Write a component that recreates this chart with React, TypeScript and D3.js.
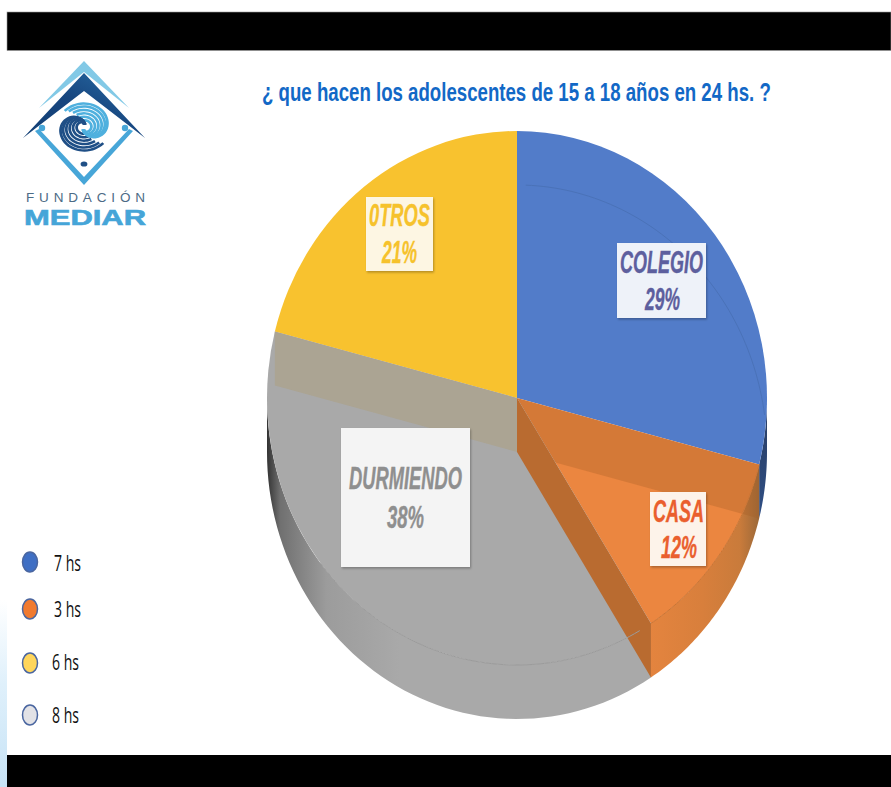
import React from "react";
import * as d3 from "d3";

// Share of the day for each activity
const categories = ["COLEGIO", "CASA", "DURMIENDO", "0TROS"];
const percentages = [29, 12, 38, 21];
const legendLabels = ["7 hs", "3 hs", "6 hs", "8 hs"];
const legendFills = ["#3f6fc4", "#f07a30", "#ffd65c", "#e2e2e6"];
const sliceFills = ["#527cc9", "#eb8640", "#a9a9a9", "#f8c22f"];
const labelInks = ["#5d5f9e", "#ea5f2e", "#8f8f8f", "#f6c22c"];
const labelPapers = ["#eef2f9", "#fdf3ea", "#f4f4f4", "#fdf6e3"];
const titleText = "¿ que hacen los adolescentes de 15 a 18 años en 24 hs. ?";

const SANS = "'Liberation Sans', Arial, sans-serif";
const cx = 517;
const cy = 398;
const rx = 250;
const ry = 267;
const depth = 54;

type LabelBox = { x: number; y: number; w: number; h: number; nameX: number; nameW: number; nameY: number; pctX: number; pctW: number; pctY: number };
const labelBoxes: LabelBox[] = [
  { x: 617, y: 243, w: 89, h: 75, nameX: 620, nameW: 83, nameY: 273, pctX: 645, pctW: 35, pctY: 310 },
  { x: 650, y: 492, w: 56, h: 74, nameX: 653, nameW: 51, nameY: 522, pctX: 661, pctW: 36, pctY: 558 },
  { x: 341, y: 428, w: 129, h: 139, nameX: 349, nameW: 113, nameY: 489, pctX: 387, pctW: 37, pctY: 528 },
  { x: 366, y: 197, w: 67, h: 74, nameX: 369, nameW: 61, nameY: 226, pctX: 382, pctW: 35, pctY: 263 },
];
const legendRows = [
  { y: 562, textX: 54, base: 571 },
  { y: 609, textX: 54, base: 617 },
  { y: 663, textX: 52, base: 670 },
  { y: 715, textX: 52, base: 723 },
];

const arcs = d3.pie<number>().sort(null)(percentages);
const faceArc = d3.arc<d3.PieArcDatum<number>>().innerRadius(0).outerRadius(rx);
const deg = (d: number) => (d * Math.PI) / 180;

// Point on the pie rim, measured clockwise from twelve o'clock
const rim = (a: number, dy = 0): [number, number] => [cx + rx * Math.sin(a), cy - ry * Math.cos(a) + dy];
const line = d3.line();
const sweep = (a0: number, a1: number, dy = 0) =>
  d3.range(0, 61).map((i) => rim(a0 + ((a1 - a0) * i) / 60, dy));
const wall = (a0: number, a1: number) => line([...sweep(a0, a1), ...sweep(a1, a0, depth)]) + "Z";
const cutFace = (a: number) =>
  line([[cx, cy], rim(a), rim(a, depth), [cx, cy + depth]]) + "Z";

const [blue, orange, grey] = arcs;

// Spiral strands of the foundation emblem: each leaves the middle and winds outward
const strandRadii = [8, 12, 16, 20, 24, 27.5];
const strand = (outer: number, i: number) =>
  d3
    .lineRadial<number>()
    .angle((t) => deg(40 - i * 6 - 225 * t))
    .radius((t) => 3 + (outer - 3) * (1 - Math.pow(1 - t, 4)))
    .curve(d3.curveBasis)(d3.range(0, 1.001, 0.05)) as string;

function Emblem() {
  return (
    <g>
      <path d="M84,61 L129,108 L84,72 L39,108 Z" fill="#6cc0e2" opacity={0.85} />
      <path d="M84,73 L145,138 L84,91 L23,138 Z" fill="url(#chevron)" />
      <path d="M35,131 L84,185 L133,131 L129,129 L84,177 L39,129 Z" fill="#47a6d8" />
      <circle cx={42} cy={128} r={3.2} fill="#47a6d8" />
      <circle cx={125} cy={128} r={3.2} fill="#47a6d8" />
      <ellipse cx={84} cy={164} rx={3.4} ry={2.6} fill="#1f4f86" />
      <circle cx={84} cy={127} r={27} fill="#ffffff" />
      <g transform="translate(84,127) scale(0.96,0.86) rotate(-12)">
        {strandRadii.map((r, i) => (
          <React.Fragment key={r}>
            <path d={strand(r, i)} fill="none" stroke="#1f4f86" strokeWidth={2.9} />
            <path d={strand(r, i)} transform="rotate(180)" fill="none" stroke="#4fb0de" strokeWidth={2.9} />
          </React.Fragment>
        ))}
      </g>
      <text x={26} y={201.5} fontFamily={SANS} fontSize={13.5} fill="#4c6b86" textLength={119} lengthAdjust="spacing">
        FUNDACIÓN
      </text>
      <text x={24} y={224.5} fontFamily={SANS} fontSize={22} fontWeight={700} fill="#45a5d8" stroke="#45a5d8" strokeWidth={0.6} textLength={122} lengthAdjust="spacingAndGlyphs">
        MEDIAR
      </text>
    </g>
  );
}

export default function App() {
  return (
    <svg
      width={891}
      height={787}
      viewBox="0 0 891 787"
      style={{ position: "absolute", left: 0, top: 0, display: "block" }}
    >
      <defs>
        <linearGradient id="chevron" x1="0" x2="1" y1="1" y2="0">
          <stop offset="0" stopColor="#123f74" />
          <stop offset="0.5" stopColor="#17467f" />
          <stop offset="1" stopColor="#2a70aa" />
        </linearGradient>
        <linearGradient id="edgeStrip" x1="0" x2="0" y1="600" y2="787" gradientUnits="userSpaceOnUse">
          <stop offset="0" stopColor="#ffffff" />
          <stop offset="0.45" stopColor="#dff0fb" />
          <stop offset="1" stopColor="#c7e3f6" />
        </linearGradient>
        <linearGradient id="greyWall" x1={267} x2={400} y1="0" y2="0" gradientUnits="userSpaceOnUse">
          <stop offset="0" stopColor="#333333" />
          <stop offset="0.1" stopColor="#707070" />
          <stop offset="0.45" stopColor="#9c9c9c" />
          <stop offset="1" stopColor="#a9a9a9" />
        </linearGradient>
        <linearGradient id="orangeWall" x1={640} x2={765} y1="0" y2="0" gradientUnits="userSpaceOnUse">
          <stop offset="0" stopColor="#e6853f" />
          <stop offset="0.5" stopColor="#d87f3c" />
          <stop offset="0.8" stopColor="#c97b3b" />
          <stop offset="1" stopColor="#8e6338" />
        </linearGradient>
        <linearGradient id="blueWall" x1="0" x2="0" y1={415} y2={525} gradientUnits="userSpaceOnUse">
          <stop offset="0" stopColor="#2a3f66" />
          <stop offset="1" stopColor="#2f4f86" />
        </linearGradient>
        <clipPath id="orangeClip">
          <path d={faceArc(orange) as string} transform={`translate(${cx},${cy}) scale(1,${ry / rx})`} />
          <path d={wall(orange.startAngle, orange.endAngle)} />
        </clipPath>
        <filter id="paperShadow" x="-15%" y="-15%" width="130%" height="130%">
          <feDropShadow dx={1} dy={1.5} stdDeviation={1.2} floodColor="#000" floodOpacity={0.28} />
        </filter>
      </defs>

      <rect width={891} height={787} fill="#ffffff" />
      <rect x={0} y={600} width={7} height={187} fill="url(#edgeStrip)" />
      <rect x={7} y={12} width={884} height={38.5} fill="#000" stroke="#999" strokeWidth={0.6} />
      <rect x={7} y={755} width={884} height={32} fill="#000" />

      <Emblem />

      <text
        transform="translate(262,101) scale(0.8,1)"
        fontFamily={SANS}
        fontSize={25}
        fontWeight={700}
        fill="#1268c6"
        textLength={636}
        lengthAdjust="spacingAndGlyphs"
      >
        {titleText}
      </text>

      {/* Side walls of the tilted disc */}
      <path d={wall(deg(90), blue.endAngle)} fill="url(#blueWall)" />
      <path d={wall(grey.startAngle, deg(270))} fill="url(#greyWall)" />
      <path d={wall(orange.startAngle, orange.endAngle)} fill="url(#orangeWall)" />

      {/* Top faces */}
      <g transform={`translate(${cx},${cy}) scale(1,${ry / rx})`}>
        {arcs.map((a, i) => (
          <path key={categories[i]} d={faceArc(a) as string} fill={sliceFills[i]} />
        ))}
      </g>

      {/* Cut faces seen through the translucent disc */}
      <path d={cutFace(grey.endAngle)} fill="#aba493" />
      <path d={cutFace(orange.startAngle)} fill="#a65c24" opacity={0.32} clipPath="url(#orangeClip)" />
      <path d={cutFace(orange.endAngle)} fill="#b96b30" />

      {/* Faint rim lines */}
      <path d={line(sweep(deg(2), deg(82), depth)) as string} fill="none" stroke="#4a72b8" strokeWidth={1} />
      <path d={line(sweep(orange.startAngle, orange.endAngle)) as string} fill="none" stroke="#c97433" strokeWidth={1} />
      <path d={line(sweep(orange.endAngle + deg(3), deg(232))) as string} fill="none" stroke="#9b9b9b" strokeWidth={1} />

      {/* Slice captions */}
      {labelBoxes.map((b, i) => (
        <g key={categories[i]} stroke={labelInks[i]} strokeWidth={0.4}>
          <rect x={b.x} y={b.y} width={b.w} height={b.h} fill={labelPapers[i]} stroke="none" filter="url(#paperShadow)" />
          <text x={b.nameX} y={b.nameY} fontFamily={SANS} fontSize={32} fontWeight={700} fontStyle="italic" fill={labelInks[i]} textLength={b.nameW} lengthAdjust="spacingAndGlyphs">
            {categories[i]}
          </text>
          <text x={b.pctX} y={b.pctY} fontFamily={SANS} fontSize={32} fontWeight={700} fontStyle="italic" fill={labelInks[i]} textLength={b.pctW} lengthAdjust="spacingAndGlyphs">
            {`${percentages[i]}%`}
          </text>
        </g>
      ))}

      {/* Hours legend */}
      {legendRows.map((r, i) => (
        <g key={legendLabels[i]}>
          <ellipse cx={30} cy={r.y} rx={7.5} ry={10} fill={legendFills[i]} stroke="#4a66a0" strokeWidth={1.5} />
          <text x={r.textX} y={r.base} fontFamily="'Open Sans', sans-serif" fontSize={21} fill="#111" textLength={27} lengthAdjust="spacingAndGlyphs">
            {legendLabels[i]}
          </text>
        </g>
      ))}
    </svg>
  );
}
